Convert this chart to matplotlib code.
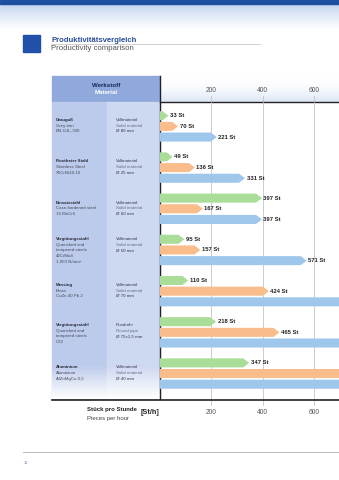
import numpy as np
import matplotlib
matplotlib.use('Agg')
import matplotlib.pyplot as plt
from matplotlib.patches import Polygon, Rectangle

plt.rcParams['font.family'] = ['Liberation Sans', 'DejaVu Sans']

W, H = 339, 480

# Stück pro Stunde je Werkstoff (grün / orange / blau)
werkstoff = ['Grauguß', 'Rostfreier Stahl', 'Einsatzstahl', 'Vergütungsstahl',
             'Messing', 'Vergütungsstahl', 'Aluminium']
werkstoff_en = [['Grey iron', 'EN-GJL-300'],
                ['Stainless Steel', 'X5CrNi18-10'],
                ['Case-hardened steel', '16 MnCr5'],
                ['Quenched and', 'tempered steels', '42CrMo4', '1.000 N/mm²'],
                ['Brass', 'CuZn 40 Pb 2'],
                ['Quenched and', 'tempered steels', 'C22'],
                ['Aluminium', 'AlZnMgCu 0,5']]
form = ['Vollmaterial', 'Vollmaterial', 'Vollmaterial', 'Vollmaterial',
        'Vollmaterial', 'Rundrohr', 'Vollmaterial']
form_en = ['Solid material', 'Solid material', 'Solid material', 'Solid material',
           'Solid material', 'Round pipe', 'Solid material']
durchmesser = ['Ø 80 mm', 'Ø 25 mm', 'Ø 60 mm', 'Ø 50 mm', 'Ø 70 mm',
               'Ø 75x1,5 mm', 'Ø 40 mm']
gruen = [33, 49, 397, 95, 110, 218, 347]
orange = [70, 136, 167, 157, 424, 465, 720]
blau = [221, 331, 397, 571, 760, 800, 780]
ticks = [200, 400, 600]

c_gruen, c_orange, c_blau = '#a9dd98', '#f8bd8b', '#9fc7ec'

fig = plt.figure(figsize=(W / 100, H / 100), dpi=100)

# Hintergrund in Pixelkoordinaten
bg = fig.add_axes([0, 0, 1, 1])
bg.set_xlim(0, W)
bg.set_ylim(H, 0)
bg.axis('off')

# Kopfleiste mit Verlauf
grad = np.linspace(0, 1, 100)[:, None]
top = np.ones((100, 1, 3))
c0 = np.array([0.72, 0.80, 0.93])
for k in range(3):
    top[:, 0, k] = c0[k] + (1 - c0[k]) * grad[:, 0] ** 0.7
bg.imshow(top, extent=[0, W, 30, 3], aspect='auto', zorder=0)
bg.add_patch(Rectangle((0, 0), W, 3.5, color='#1d4f9e', zorder=1))

# Titel
bg.add_patch(Rectangle((23, 35), 17, 17, color='#2150a8', zorder=1))
bg.plot([51, 260], [43.5, 43.5], color='#c8c8c8', lw=0.6)
bg.text(51, 41.5, 'Produktivitätsvergleich', fontsize=5.6, fontweight='bold',
        color='#2a4f9a')
bg.text(51, 50, 'Productivity comparison', fontsize=5.6, color='#555555')

# linke Tabelle
bg.add_patch(Rectangle((52, 76), 108, 26, color='#8fa9dd', zorder=1))
bg.add_patch(Rectangle((52, 102), 54, 297, color='#bccbeb', zorder=1))
bg.add_patch(Rectangle((106.8, 102), 53, 297, color='#cdd8f1', zorder=1))
fade = np.ones((60, 1, 4))
fade[:, 0, 3] = np.linspace(0, 1, 60)
bg.imshow(fade, extent=[52, 160, 399, 365], aspect='auto', zorder=2)
bg.text(106, 85.5, 'Werkstoff', fontsize=4.4, fontweight='bold', color='#1a2a55',
        ha='center', va='center', zorder=3)
bg.text(106, 92, 'Material', fontsize=4.4, fontweight='bold', color='white',
        ha='center', va='center', zorder=3)

# Kopfbereich der Grafik
hdr = np.ones((50, 1, 3))
c1 = np.array([0.86, 0.90, 0.97])
for k in range(3):
    hdr[:, 0, k] = 1 - (1 - c1[k]) * np.linspace(0, 1, 50) ** 2
bg.imshow(hdr, extent=[160, W, 102, 76], aspect='auto', zorder=1)

# Achsenlinien
bg.plot([160, 160], [76, 399], color='#222222', lw=1.0, zorder=4)
bg.plot([160, W], [102, 102], color='#222222', lw=1.0, zorder=4)
bg.plot([52, W], [399.5, 399.5], color='#222222', lw=1.2, zorder=4)

# Fußbereich
bg.text(87, 410, 'Stück pro Stunde', fontsize=4.3, fontweight='bold',
        color='#222222', va='center')
bg.text(87, 418.5, 'Pieces per hour', fontsize=4.3, color='#444444', va='center')
bg.text(141, 412, '[St/h]', fontsize=5.2, fontweight='bold', color='#222222',
        va='center')
bg.plot([23, W], [452, 452], color='#bbbbbb', lw=0.7)
bg.text(24, 463, '16', fontsize=3, color='#6a86b8', va='center')

# Balkenbereich
ax = fig.add_axes([160 / W, 1 - 399 / H, (W - 160) / W, 297 / H])
ax.patch.set_alpha(0)
xmax = 697
ax.set_xlim(0, xmax)
ax.set_ylim(7.21, 0)
ax.axis('off')

for t in ticks:
    ax.axvline(t, color='#c4c4c4', lw=0.6, zorder=0)
    xp = 160 + t / xmax * (W - 160)
    bg.plot([xp, xp], [96, 102], color='#c4c4c4', lw=0.6, zorder=2)
    bg.plot([xp, xp], [399, 405], color='#c4c4c4', lw=0.6, zorder=2)
    bg.text(xp, 90.5, str(t), fontsize=4.8, color='#555555', ha='center',
            va='center', zorder=3)
    bg.text(xp, 412.5, str(t), fontsize=4.8, color='#555555', ha='center',
            va='center', zorder=3)

h = 0.22
tip = 23
for i in range(len(werkstoff)):
    y0 = i + 0.333
    for j, (vals, col) in enumerate([(gruen, c_gruen), (orange, c_orange),
                                      (blau, c_blau)]):
        v = vals[i]
        y = y0 + j * 0.259
        pts = [(0, y - h / 2), (v - tip, y - h / 2), (v, y),
               (v - tip, y + h / 2), (0, y + h / 2)]
        ax.add_patch(Polygon(pts, closed=True, color=col, lw=0, zorder=2))
        if v < xmax:
            ax.text(v + 6, y, f'{v} St', fontsize=4.2, fontweight='bold',
                    color='#222222', va='center', ha='left', zorder=3)

    # Texte der Tabelle
    ty = 115.7 + 41.2 * i + (0 if len(werkstoff_en[i]) == 4 else 4.5)
    if len(werkstoff_en[i]) == 3:
        ty -= 1
    bg.text(56, ty, werkstoff[i], fontsize=3.2, fontweight='bold',
            color='#2a2a3a', va='center', zorder=3)
    for k, s in enumerate(werkstoff_en[i]):
        bg.text(56, ty + 5.6 * (k + 1), s, fontsize=3.2, color='#4a4a5a',
                va='center', zorder=3)
    bg.text(116, ty, form[i], fontsize=3.2, color='#3a3a4a', va='center', zorder=3)
    bg.text(116, ty + 5.6, form_en[i], fontsize=3.2, color='#6a7088',
            va='center', zorder=3)
    bg.text(116, ty + 11.2, durchmesser[i], fontsize=3.2, color='#3a3a4a',
            va='center', zorder=3)

fig.savefig('out.png', dpi=100)
